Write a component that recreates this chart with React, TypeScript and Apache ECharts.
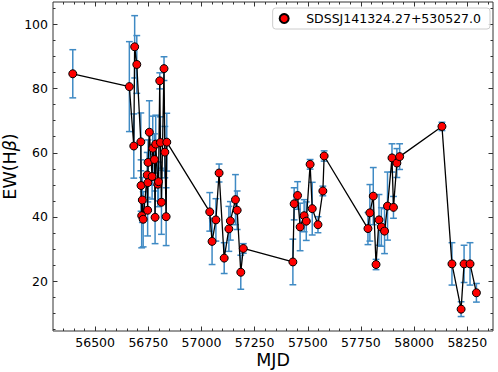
import React, { useEffect, useRef } from "react";
import * as echarts from "echarts";

const mjd = [
  56395, 56661, 56682, 56686, 56696, 56715, 56716, 56719, 56722, 56726,
  56745, 56747, 56748, 56749, 56755, 56768, 56771, 56779, 56782, 56785,
  56795, 56798, 56804, 56807, 56812, 56824, 56828, 56834, 56837,
  57039, 57050, 57068, 57083, 57107, 57129, 57136, 57160, 57168, 57185, 57197,
  57430, 57436, 57452, 57464, 57483, 57493, 57511, 57521, 57548, 57571, 57577,
  57783, 57792, 57808, 57821, 57835, 57846, 57861, 57875, 57896, 57903, 57919, 57932,
  58131, 58178, 58221, 58235, 58263, 58293,
];
const ew = [
  84.6, 80.6, 62.1, 93.0, 87.5, 63.4, 49.8, 40.4, 45.3, 39.3,
  53.1, 42.1, 50.7, 57.0, 66.4, 52.6, 61.4, 57.9, 39.9, 62.7,
  50.2, 51.0, 82.4, 63.2, 44.6, 86.2, 60.2, 40.1, 63.3,
  41.6, 32.4, 39.1, 53.7, 27.2, 36.3, 38.8, 45.4, 42.1, 22.8, 30.2,
  26.0, 44.1, 46.7, 36.9, 40.4, 38.7, 56.4, 42.6, 37.6, 48.1, 59.0,
  36.4, 41.3, 46.5, 25.2, 39.1, 36.9, 35.6, 43.4, 58.4, 43.0, 56.8, 58.8,
  68.2, 25.4, 11.3, 25.4, 25.4, 16.4,
];
const ewErr = [
  7.5, 14, 10, 9.7, 9, 9, 8, 10, 7, 8.6,
  7, 8, 6, 7, 9.8, 7, 10, 8, 8.2, 9,
  7, 6, 2.5, 8, 10, 3.7, 8, 9, 9,
  6, 7.2, 6.6, 2.8, 4.8, 7, 6, 7.8, 6, 5.3, 1.5,
  7.1, 5, 4.3, 7.4, 5, 6, 1.5, 8.2, 2.5, 1.5, 1.6,
  5, 8.8, 8.9, 1.6, 7.9, 6, 7, 10.6, 4.4, 3.4, 4.5, 4,
  1.3, 6.6, 2.3, 5.8, 6.6, 2.9,
];

const xMajorTicks = [56500, 56750, 57000, 57250, 57500, 57750, 58000, 58250];
const xMinorTicks = [
  56350, 56400, 56450, 56550, 56600, 56650, 56700, 56800, 56850, 56900, 56950,
  57050, 57100, 57150, 57200, 57300, 57350, 57400, 57450, 57550, 57600, 57650,
  57700, 57800, 57850, 57900, 57950, 58050, 58100, 58150, 58200, 58300, 58350,
];
const yMajorTicks = [20, 40, 60, 80, 100];
const yMinorTicks = [5, 10, 15, 25, 30, 35, 45, 50, 55, 65, 70, 75, 85, 90, 95, 105];

const SERIES_NAME = "SDSSJ141324.27+530527.0";
const X_MIN = 56302;
const X_MAX = 58371;
const Y_MIN = 4.5;
const Y_MAX = 106.95;

const FONT = "DejaVu Sans";
const FRAME = "#333333";
const ERR_COLOR = "#3f8ac4";

export default function App() {
  const ref = useRef<HTMLDivElement>(null);

  useEffect(() => {
    if (!ref.current) return;
    const chart = echarts.init(ref.current, undefined, { renderer: "svg" });

    const points = mjd.map((m, i) => [m, ew[i]]);
    const errData = mjd.map((m, i) => [m, ew[i], ewErr[i]]);

    const mkAxis = (
      kind: "x" | "y",
      pos: string,
      ticks: number[],
      len: number,
      labels: boolean,
      extra: any = {}
    ) => ({
      type: "value",
      position: pos,
      min: kind === "x" ? X_MIN : Y_MIN,
      max: kind === "x" ? X_MAX : Y_MAX,
      axisLine: { show: false },
      splitLine: { show: false },
      axisTick: {
        show: true,
        inside: true,
        length: len,
        customValues: ticks,
        lineStyle: { color: FRAME, width: 1 },
      },
      axisLabel: {
        show: labels,
        customValues: ticks,
        margin: 5,
        fontFamily: FONT,
        fontSize: 12.5,
        color: "#000",
        formatter: (v: number) => String(v),
      },
      ...extra,
    });

    const option: any = {
      animation: false,
      backgroundColor: "#ffffff",
      grid: {
        left: 53,
        right: 5,
        top: 2,
        bottom: 41,
        show: true,
        borderColor: FRAME,
        borderWidth: 1,
        backgroundColor: "transparent",
        containLabel: false,
        outerBoundsMode: "none",
      },
      legend: {
        data: [{ name: SERIES_NAME, icon: "circle" }],
        right: 8,
        top: 8,
        padding: [4, 9, 4, 6],
        itemWidth: 30,
        itemHeight: 9,
        itemGap: 5,
        borderColor: "#cccccc",
        borderWidth: 1,
        borderRadius: 3,
        backgroundColor: "rgba(255,255,255,0.8)",
        textStyle: { fontFamily: FONT, fontSize: 12.5, color: "#000", padding: [0, 0, 0, 2] },
      },
      xAxis: [
        mkAxis("x", "bottom", xMajorTicks, 4.5, true, {
          name: "MJD",
          nameLocation: "middle",
          nameGap: 20,
          nameMoveOverlap: false,
          nameTextStyle: { fontFamily: FONT, fontSize: 17.5, color: "#000" },
        }),
        mkAxis("x", "bottom", xMinorTicks, 2.5, false),
        mkAxis("x", "top", xMajorTicks, 4.5, false),
        mkAxis("x", "top", xMinorTicks, 2.5, false),
      ],
      yAxis: [
        mkAxis("y", "left", yMajorTicks, 4.5, true, {
          name: "{a|EW(H}{b|β}{a|)}",
          nameLocation: "middle",
          nameGap: 34,
          nameRotate: 90,
          nameMoveOverlap: false,
          nameTextStyle: {
            rich: {
              a: { fontFamily: FONT, fontSize: 17.5, color: "#000" },
              b: { fontFamily: FONT, fontSize: 17.5, fontStyle: "italic", color: "#000" },
            },
          },
        }),
        mkAxis("y", "left", yMinorTicks, 2.5, false),
        mkAxis("y", "right", yMajorTicks, 4.5, false),
        mkAxis("y", "right", yMinorTicks, 2.5, false),
      ],
      series: [
        {
          type: "custom",
          name: "err",
          xAxisIndex: 0,
          yAxisIndex: 0,
          z: 2,
          data: errData,
          encode: { x: 0, y: 1 },
          renderItem: (params: any, api: any) => {
            const x = api.value(0);
            const y = api.value(1);
            const e = api.value(2);
            const top = api.coord([x, y + e]);
            const bot = api.coord([x, y - e]);
            const hw = 3.4;
            const st = { stroke: ERR_COLOR, lineWidth: 1.5 };
            return {
              type: "group",
              children: [
                { type: "line", shape: { x1: top[0], y1: top[1], x2: bot[0], y2: bot[1] }, style: st },
                { type: "line", shape: { x1: top[0] - hw, y1: top[1], x2: top[0] + hw, y2: top[1] }, style: st },
                { type: "line", shape: { x1: bot[0] - hw, y1: bot[1], x2: bot[0] + hw, y2: bot[1] }, style: st },
              ],
            };
          },
        },
        {
          type: "line",
          name: "curve",
          xAxisIndex: 0,
          yAxisIndex: 0,
          z: 3,
          data: points,
          symbol: "none",
          lineStyle: { color: "#000", width: 1.3 },
        },
        {
          type: "scatter",
          name: SERIES_NAME,
          xAxisIndex: 0,
          yAxisIndex: 0,
          z: 4,
          data: points,
          symbol: "circle",
          symbolSize: 8,
          itemStyle: { color: "#ff0000", borderColor: "#000", borderWidth: 1, opacity: 1 },
        },
      ],
    };

    chart.setOption(option);
    return () => chart.dispose();
  }, []);

  return (
    <div
      ref={ref}
      style={{ position: "fixed", left: 0, top: 0, width: 498, height: 372 }}
    />
  );
}
